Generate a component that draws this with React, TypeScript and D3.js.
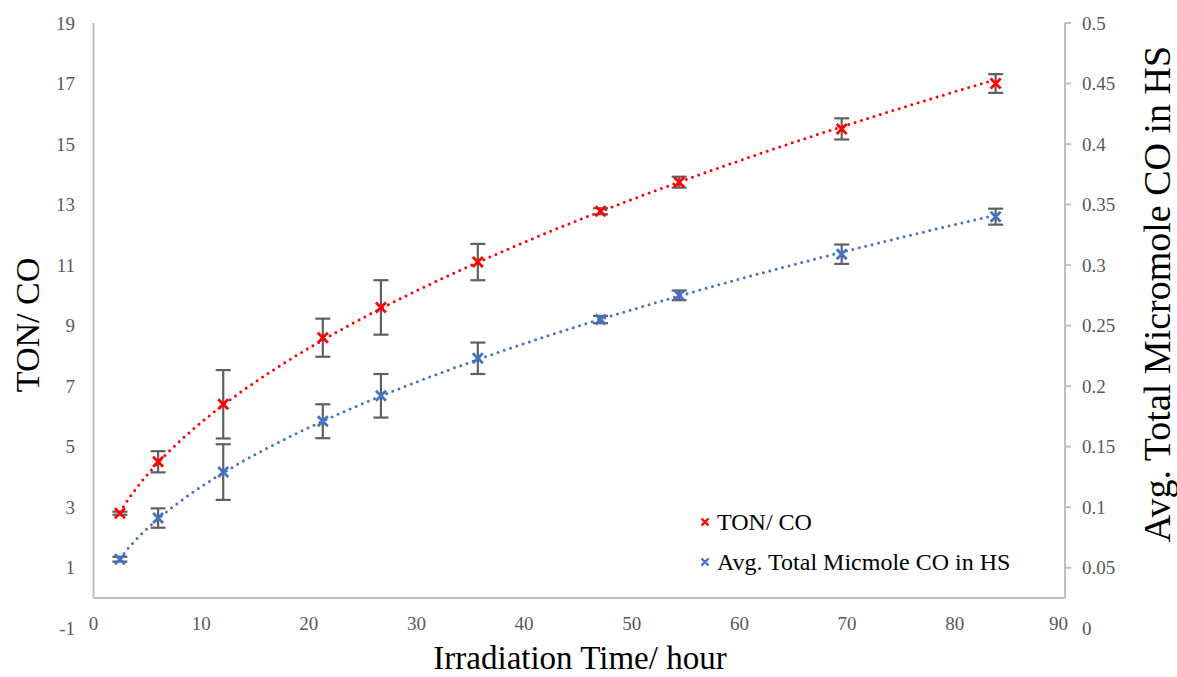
import React from "react";
import * as d3 from "d3";

const hours = [2.45, 6.0, 12.05, 21.3, 26.7, 35.7, 47.1, 54.4, 69.5, 83.8];
const tonCO = [2.8, 4.5, 6.4, 8.6, 9.6, 11.1, 12.78, 13.74, 15.5, 17.0];
const tonErr = [0.05, 0.35, 1.13, 0.63, 0.9, 0.6, 0.1, 0.18, 0.35, 0.31];
const micromole = [0.057, 0.091, 0.129, 0.171, 0.192, 0.223, 0.255, 0.275, 0.309, 0.34];
const microErr = [0.002, 0.008, 0.023, 0.014, 0.018, 0.013, 0.003, 0.004, 0.008, 0.0066];

const xTicks = [0, 10, 20, 30, 40, 50, 60, 70, 80, 90];
const leftTicks = [-1, 1, 3, 5, 7, 9, 11, 13, 15, 17, 19];
const rightTicks = [0, 0.05, 0.1, 0.15, 0.2, 0.25, 0.3, 0.35, 0.4, 0.45, 0.5];

const seriesNames = ["TON/ CO", "Avg. Total Micmole CO in HS"];
const RED = "#ff0000";
const BLUE = "#4472c4";
const FONT = "'Liberation Serif', 'Times New Roman', serif";

function powerFit(xs: number[], ys: number[]) {
  const lx = xs.map(Math.log);
  const ly = ys.map(Math.log);
  const n = xs.length;
  const mx = d3.mean(lx)!;
  const my = d3.mean(ly)!;
  let sxy = 0, sxx = 0;
  for (let i = 0; i < n; i++) {
    sxy += (lx[i] - mx) * (ly[i] - my);
    sxx += (lx[i] - mx) * (lx[i] - mx);
  }
  const b = sxy / sxx;
  const a = Math.exp(my - b * mx);
  return (x: number) => a * Math.pow(x, b);
}

export default function App() {
  const x = d3.scaleLinear().domain([0, 90]).range([93.5, 1062.4]);
  const yL = d3.scaleLinear().domain([-1, 19]).range([628.2, 23]);
  const yR = d3.scaleLinear().domain([0, 0.5]).range([628.2, 23]);
  const axisY = yL(0);
  const rightX = 1065;

  const fitRed = powerFit(hours, tonCO);
  const fitBlue = powerFit(hours, micromole);
  const xs = d3.range(hours[0], hours[hours.length - 1] + 0.001, 0.5);
  const lineRed = d3.line<number>().x((d) => x(d)).y((d) => yL(fitRed(d)))(xs)!;
  const lineBlue = d3.line<number>().x((d) => x(d)).y((d) => yR(fitBlue(d)))(xs)!;

  const cross = (cx: number, cy: number, s: number, color: string, w: number, key: string) => (
    <path
      key={key}
      d={`M${cx - s},${cy - s}L${cx + s},${cy + s}M${cx - s},${cy + s}L${cx + s},${cy - s}`}
      stroke={color}
      strokeWidth={w}
      fill="none"
    />
  );

  const errBars = (vals: number[], errs: number[], scale: d3.ScaleLinear<number, number>, key: string) =>
    hours.map((h, i) => {
      const cx = x(h);
      const y1 = scale(vals[i] + errs[i]);
      const y2 = scale(vals[i] - errs[i]);
      return (
        <g key={key + i} stroke="#606060" strokeWidth={2.2}>
          <line x1={cx} x2={cx} y1={y1} y2={y2} />
          <line x1={cx - 7.5} x2={cx + 7.5} y1={y1} y2={y1} />
          <line x1={cx - 7.5} x2={cx + 7.5} y1={y2} y2={y2} />
        </g>
      );
    });

  return (
    <svg width={1177} height={677} style={{ position: "absolute", left: 0, top: 0, background: "#fff" }}>
      <rect width={1177} height={677} fill="#fff" />
      {/* axes */}
      <g stroke="#bfbfbf" strokeWidth={2} fill="none">
        <line x1={x(0)} x2={x(0)} y1={yL(19)} y2={axisY} />
        <line x1={x(0)} x2={rightX} y1={axisY} y2={axisY} />
        <line x1={rightX} x2={rightX} y1={yR(0.5)} y2={axisY} />
        {rightTicks
          .filter((t) => yR(t) < axisY - 1)
          .map((t) => (
            <line key={t} x1={rightX} x2={rightX + 6} y1={yR(t)} y2={yR(t)} />
          ))}
      </g>
      {/* tick labels */}
      <g fontFamily={FONT} fontSize={19} fill="#595959">
        {leftTicks.map((t) => (
          <text key={t} x={75} y={yL(t)} textAnchor="end" dominantBaseline="central">
            {t}
          </text>
        ))}
        {rightTicks.map((t) => (
          <text key={t} x={1082} y={yR(t)} textAnchor="start" dominantBaseline="central">
            {t === 0 ? "0" : String(t)}
          </text>
        ))}
        {xTicks.map((t) => (
          <text key={t} x={t === 90 ? x(t) - 4 : x(t)} y={623} textAnchor="middle" dominantBaseline="central">
            {t}
          </text>
        ))}
      </g>
      {/* axis titles */}
      <g fontFamily={FONT} fill="#000">
        <text x={580} y={669} fontSize={33} textAnchor="middle">
          Irradiation Time/ hour
        </text>
        <text fontSize={34} transform={`translate(27,325) rotate(-90)`} textAnchor="middle" dominantBaseline="central">
          TON/ CO
        </text>
        <text fontSize={38} transform={`translate(1157,294) rotate(-90)`} textAnchor="middle" dominantBaseline="central">
          Avg. Total Micromole CO in HS
        </text>
      </g>
      {/* trendlines */}
      <path d={lineRed} stroke={RED} strokeWidth={3} fill="none" strokeDasharray="0 6.6" strokeLinecap="round" />
      <path d={lineBlue} stroke={BLUE} strokeWidth={3} fill="none" strokeDasharray="0 6.6" strokeLinecap="round" />
      {/* error bars */}
      {errBars(tonCO, tonErr, yL, "er")}
      {errBars(micromole, microErr, yR, "eb")}
      {/* markers */}
      {hours.map((h, i) => cross(x(h), yL(tonCO[i]), 5, RED, 2.8, "mr" + i))}
      {hours.map((h, i) => cross(x(h), yR(micromole[i]), 5, BLUE, 2.8, "mb" + i))}
      {/* legend */}
      <g fontFamily={FONT} fontSize={24} fill="#000">
        {cross(705, 522, 3.5, RED, 2.4, "lr")}
        <text x={717} y={522} dominantBaseline="central">
          {seriesNames[0]}
        </text>
        {cross(705, 562, 3.5, BLUE, 2.4, "lb")}
        <text x={717} y={562} dominantBaseline="central">
          {seriesNames[1]}
        </text>
      </g>
    </svg>
  );
}
